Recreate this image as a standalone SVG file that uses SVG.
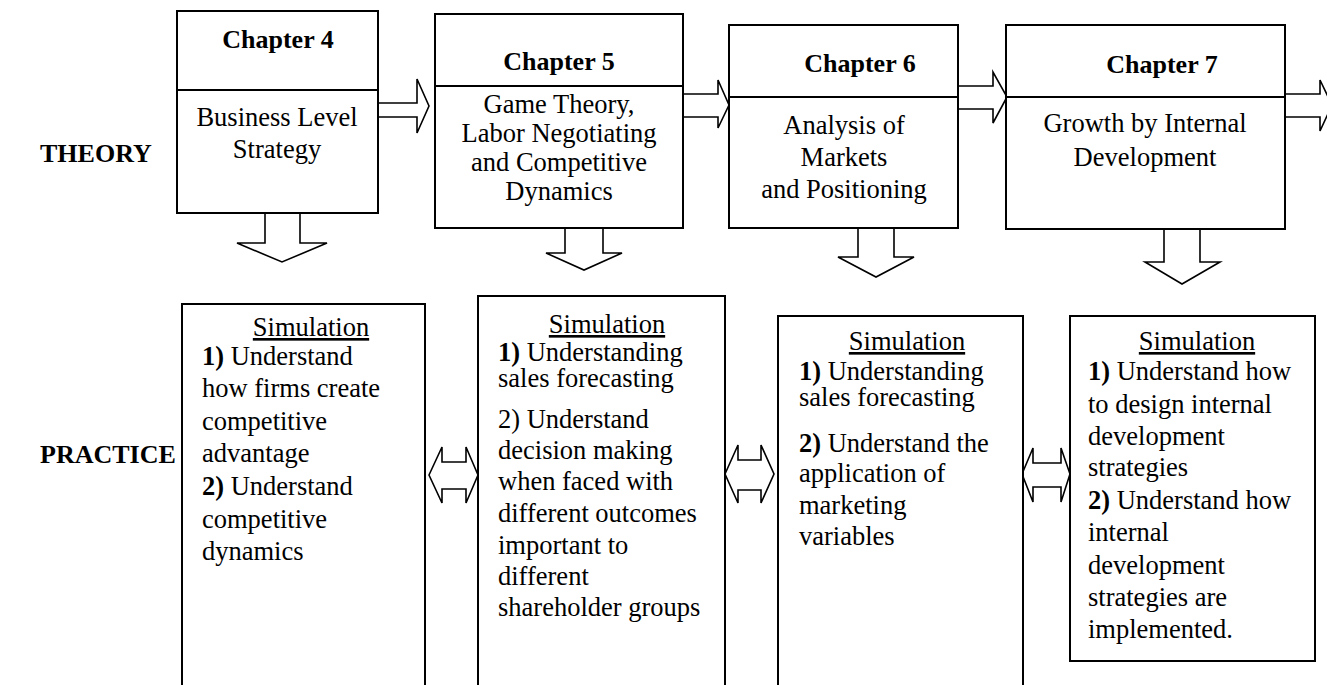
<svg xmlns="http://www.w3.org/2000/svg" width="1327" height="685" viewBox="0 0 1327 685">
  <style>
    .box { fill: #ffffff; stroke: #000000; stroke-width: 2; }
    .div { stroke: #000000; stroke-width: 2; }
    .arrow { fill: #ffffff; stroke: #000000; stroke-width: 1.6; stroke-linejoin: miter; }
    text { font-family: "Liberation Serif", "Times New Roman", serif; fill: #000000; }
    .head { font-size: 26px; font-weight: bold; }
    .label { font-size: 26px; font-weight: bold; }
    .body { font-size: 26.5px; }
    .ctr { text-anchor: middle; }
    .u { text-decoration: underline; }
    .b { font-weight: bold; }
  </style>

  <!-- row labels -->
  <text class="label" x="40" y="162">THEORY</text>
  <text class="label" x="40" y="463">PRACTICE</text>

  <!-- connectors: block arrows between chapters, down to simulations, and between simulations -->
  <g id="connectors">
    <polygon class="arrow" points="378,103 417,103 417,79 429,106 417,133 417,117 378,117"/>
    <polygon class="arrow" points="683,94 718,94 718,80 729,105 718,128 718,117 683,117"/>
    <polygon class="arrow" points="958,86 993,86 993,72 1007,97 993,123 993,109 958,109"/>
    <polygon class="arrow" points="1285,94 1320,94 1320,80 1332,105 1320,131 1320,117 1285,117"/>

    <polygon class="arrow" points="265,213 300,213 300,243 327,243 282,262 237,243 265,243"/>
    <polygon class="arrow" points="565,228 603,228 603,253 622,253 584,270 546,253 565,253"/>
    <polygon class="arrow" points="858,228 894,228 894,257 914,257 876,277 838,257 858,257"/>
    <polygon class="arrow" points="1164,229 1200,229 1200,262 1220,262 1182,284 1145,262 1164,262"/>

    <polygon class="arrow" points="429,475 442,447 442,462 466,462 466,447 478,475 466,503 466,489 442,489 442,503"/>
    <polygon class="arrow" points="725,474 738,445 738,460 761,460 761,445 774,474 761,503 761,490 738,490 738,503"/>
    <polygon class="arrow" points="1022,474 1033,448 1033,463 1061,463 1061,448 1070,474 1061,502 1061,487 1033,487 1033,502"/>
  </g>

  <!-- theory row -->
  <g id="chapter4">
    <rect class="box" x="177" y="11" width="201" height="202"/>
    <line class="div" x1="177" y1="90" x2="378" y2="90"/>
    <text class="head ctr" x="278" y="48">Chapter 4</text>
    <text class="body ctr" x="277" y="126">Business Level</text>
    <text class="body ctr" x="277" y="158">Strategy</text>
  </g>

  <g id="chapter5">
    <rect class="box" x="435" y="14" width="248" height="214"/>
    <line class="div" x1="435" y1="86" x2="683" y2="86"/>
    <text class="head ctr" x="559" y="70">Chapter 5</text>
    <text class="body ctr" x="559" y="113">Game Theory,</text>
    <text class="body ctr" x="559" y="142">Labor Negotiating</text>
    <text class="body ctr" x="559" y="171">and Competitive</text>
    <text class="body ctr" x="559" y="200">Dynamics</text>
  </g>

  <g id="chapter6">
    <rect class="box" x="729" y="25" width="229" height="203"/>
    <line class="div" x1="729" y1="97" x2="958" y2="97"/>
    <text class="head ctr" x="860" y="72">Chapter 6</text>
    <text class="body ctr" x="844" y="134">Analysis of</text>
    <text class="body ctr" x="844" y="166">Markets</text>
    <text class="body ctr" x="844" y="198">and Positioning</text>
  </g>

  <g id="chapter7">
    <rect class="box" x="1006" y="25" width="279" height="204"/>
    <line class="div" x1="1006" y1="97" x2="1285" y2="97"/>
    <text class="head ctr" x="1162" y="73">Chapter 7</text>
    <text class="body ctr" x="1145" y="132">Growth by Internal</text>
    <text class="body ctr" x="1145" y="166">Development</text>
  </g>

  <!-- practice row -->
  <g id="simulation4">
    <rect class="box" x="182" y="304" width="243" height="400"/>
    <text class="body ctr u" x="311" y="336">Simulation</text>
    <text class="body" x="202" y="365"><tspan class="b">1)</tspan> Understand</text>
    <text class="body" x="202" y="397">how firms create</text>
    <text class="body" x="202" y="430">competitive</text>
    <text class="body" x="202" y="462">advantage</text>
    <text class="body" x="202" y="495"><tspan class="b">2)</tspan> Understand</text>
    <text class="body" x="202" y="528">competitive</text>
    <text class="body" x="202" y="560">dynamics</text>
  </g>

  <g id="simulation5">
    <rect class="box" x="478" y="296" width="247" height="410"/>
    <text class="body ctr u" x="607" y="333">Simulation</text>
    <text class="body" x="498" y="361"><tspan class="b">1)</tspan> Understanding</text>
    <text class="body" x="498" y="387">sales forecasting</text>
    <text class="body" x="498" y="428">2) Understand</text>
    <text class="body" x="498" y="459">decision making</text>
    <text class="body" x="498" y="490">when faced with</text>
    <text class="body" x="498" y="522">different outcomes</text>
    <text class="body" x="498" y="554">important to</text>
    <text class="body" x="498" y="585">different</text>
    <text class="body" x="498" y="616">shareholder groups</text>
  </g>

  <g id="simulation6">
    <rect class="box" x="778" y="316" width="245" height="390"/>
    <text class="body ctr u" x="907" y="350">Simulation</text>
    <text class="body" x="799" y="380"><tspan class="b">1)</tspan> Understanding</text>
    <text class="body" x="799" y="406">sales forecasting</text>
    <text class="body" x="799" y="452"><tspan class="b">2)</tspan> Understand the</text>
    <text class="body" x="799" y="482">application of</text>
    <text class="body" x="799" y="514">marketing</text>
    <text class="body" x="799" y="545">variables</text>
  </g>

  <g id="simulation7">
    <rect class="box" x="1070" y="316" width="245" height="345"/>
    <text class="body ctr u" x="1197" y="350">Simulation</text>
    <text class="body" x="1088" y="380"><tspan class="b">1)</tspan> Understand how</text>
    <text class="body" x="1088" y="413">to design internal</text>
    <text class="body" x="1088" y="445">development</text>
    <text class="body" x="1088" y="476">strategies</text>
    <text class="body" x="1088" y="509"><tspan class="b">2)</tspan> Understand how</text>
    <text class="body" x="1088" y="541">internal</text>
    <text class="body" x="1088" y="574">development</text>
    <text class="body" x="1088" y="606">strategies are</text>
    <text class="body" x="1088" y="638">implemented.</text>
  </g>
</svg>
